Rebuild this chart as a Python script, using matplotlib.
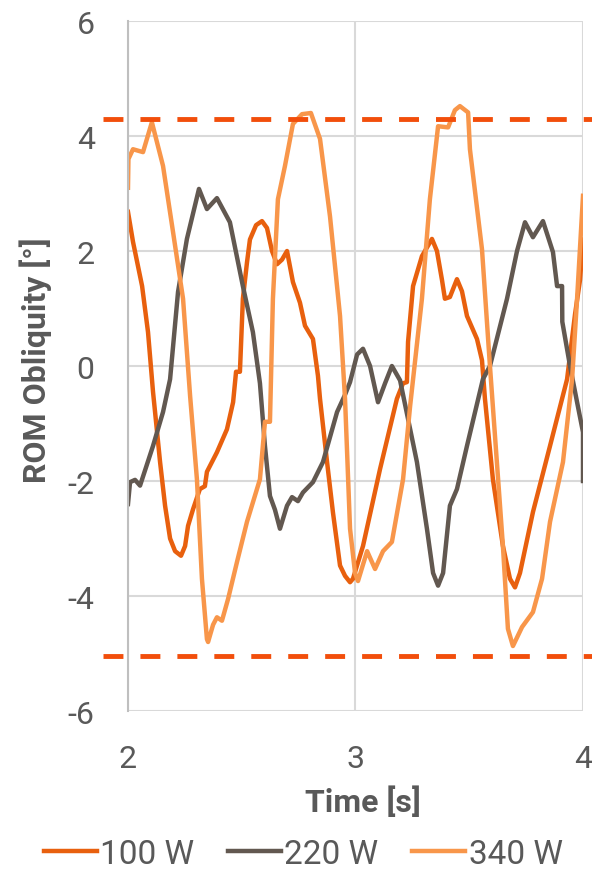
import matplotlib
matplotlib.use('Agg')
import matplotlib.pyplot as plt

plt.rcParams['font.family'] = ['Roboto', 'DejaVu Sans']
plt.rcParams['axes.unicode_minus'] = False

GREY_TXT = '#595959'
GRID = '#D9D9D9'

# 100 W
t_100 = [2.000, 2.022, 2.062, 2.088, 2.110, 2.119, 2.141, 2.163, 2.185, 2.207,
         2.233, 2.251, 2.264, 2.286, 2.316, 2.338, 2.347, 2.391, 2.435, 2.462,
         2.475, 2.492, 2.505, 2.523, 2.536, 2.563, 2.589, 2.611, 2.633, 2.655,
         2.677, 2.699, 2.725, 2.756, 2.778, 2.813, 2.835, 2.844, 2.875, 2.901,
         2.932, 2.954, 2.976, 2.989, 3.033, 3.108, 3.182, 3.209, 3.226, 3.231,
         3.253, 3.292, 3.336, 3.358, 3.380, 3.393, 3.415, 3.446, 3.468, 3.490,
         3.534, 3.556, 3.569, 3.604, 3.648, 3.679, 3.701, 3.723, 3.780, 3.855,
         3.930, 3.965, 3.987, 4.000]
v_100 = [2.68, 2.16, 1.39, 0.59, -0.45, -0.80, -1.67, -2.43, -3.00, -3.22,
         -3.30, -3.13, -2.78, -2.49, -2.14, -2.09, -1.84, -1.50, -1.10, -0.63,
         -0.10, -0.10, 1.17, 1.80, 2.20, 2.45, 2.52, 2.40, 2.00, 1.77,
         1.85, 2.00, 1.46, 1.10, 0.70, 0.47, -0.17, -0.57, -1.67, -2.55,
         -3.47, -3.65, -3.76, -3.70, -3.13, -1.79, -0.57, -0.30, -0.28, 0.42,
         1.39, 1.91, 2.21, 2.00, 1.50, 1.17, 1.20, 1.51, 1.30, 0.87,
         0.47, 0.10, -0.57, -1.97, -3.13, -3.70, -3.85, -3.60, -2.54, -1.39,
         -0.23, 0.90, 1.50, 2.20]

# 220 W
t_220 = [2.000, 2.009, 2.031, 2.053, 2.110, 2.154, 2.185, 2.220, 2.259, 2.312,
         2.347, 2.391, 2.448, 2.505, 2.549, 2.580, 2.602, 2.624, 2.646, 2.668,
         2.699, 2.721, 2.747, 2.769, 2.813, 2.857, 2.919, 2.954, 2.976, 3.007,
         3.033, 3.064, 3.099, 3.130, 3.160, 3.196, 3.270, 3.314, 3.341, 3.363,
         3.385, 3.415, 3.446, 3.490, 3.560, 3.591, 3.666, 3.710, 3.745, 3.780,
         3.824, 3.868, 3.886, 3.908, 3.909, 3.943, 3.974, 4.000, 4.000]
v_220 = [-2.40, -2.02, -1.98, -2.08, -1.39, -0.80, -0.23, 1.29, 2.21, 3.08,
         2.73, 2.92, 2.50, 1.39, 0.59, -0.30, -1.39, -2.26, -2.50, -2.83,
         -2.43, -2.28, -2.35, -2.20, -2.02, -1.67, -0.80, -0.50, -0.28, 0.20,
         0.30, 0.00, -0.63, -0.30, 0.00, -0.25, -1.67, -2.83, -3.60, -3.82,
         -3.60, -2.43, -2.14, -1.39, -0.23, 0.00, 1.17, 2.00, 2.50, 2.24,
         2.52, 1.98, 1.39, 1.39, 0.77, 0.00, -0.63, -1.15, -2.00]

# 340 W
t_340 = [2.000, 2.002, 2.022, 2.066, 2.105, 2.154, 2.198, 2.242, 2.273, 2.303,
         2.325, 2.347, 2.352, 2.374, 2.391, 2.413, 2.440, 2.479, 2.523, 2.580,
         2.602, 2.624, 2.637, 2.659, 2.690, 2.725, 2.765, 2.804, 2.844, 2.888,
         2.932, 2.954, 2.976, 2.998, 3.011, 3.051, 3.086, 3.121, 3.160, 3.209,
         3.240, 3.292, 3.327, 3.363, 3.407, 3.437, 3.459, 3.495, 3.503, 3.556,
         3.591, 3.648, 3.670, 3.692, 3.732, 3.780, 3.820, 3.855, 3.912, 3.952,
         3.974, 4.000]
v_340 = [3.10, 3.60, 3.77, 3.72, 4.24, 3.48, 2.33, 1.17, -0.52, -1.97,
         -3.70, -4.75, -4.80, -4.50, -4.37, -4.43, -4.05, -3.41, -2.71, -1.97,
         -0.97, -0.97, 1.17, 2.90, 3.48, 4.21, 4.38, 4.40, 3.95, 2.60,
         0.87, -0.57, -2.83, -3.60, -3.74, -3.22, -3.53, -3.22, -3.06, -1.97,
         -0.70, 1.17, 2.90, 4.17, 4.15, 4.45, 4.52, 4.41, 3.77, 2.03,
         0.00, -3.13, -4.57, -4.87, -4.54, -4.28, -3.70, -2.71, -1.67, -0.23,
         1.17, 2.96]

limits = [4.3, -5.05]

series = [('100 W', t_100, v_100, '#E8600E'),
          ('220 W', t_220, v_220, '#625850'),
          ('340 W', t_340, v_340, '#F8964A')]

fig = plt.figure(figsize=(5.92, 8.70), dpi=100)
ax = fig.add_axes([0.2162, 0.1816, 0.7686, 0.7931])

for name, t, v, c in series:
    ax.plot(t, v, color=c, lw=3.2, label=name, solid_joinstyle='round')

# limit lines, running a bit past the plot area
for lim in limits:
    ax.plot([-0.055, 1.03], [lim, lim], transform=ax.get_yaxis_transform(),
            color='#F24E0B', lw=3.5, dashes=(4.1, 3.5), dash_capstyle='butt',
            clip_on=False)

ax.set_xlim(2, 4)
ax.set_ylim(-6, 6)
ax.set_xticks([2, 3, 4])
ax.set_yticks([-6, -4, -2, 0, 2, 4, 6])
ax.grid(True, color=GRID, lw=1.5)
ax.set_axisbelow(True)
for s in ['top', 'right', 'bottom']:
    ax.spines[s].set_visible(False)
ax.spines['left'].set_color('#BFBFBF')
ax.spines['left'].set_linewidth(1.5)
ax.tick_params(length=0, labelsize=23, labelcolor=GREY_TXT, pad=24)

ax.set_xlabel('Time [s]', fontsize=23, fontweight='bold', color=GREY_TXT)
ax.set_ylabel('ROM Obliquity [°]', fontsize=23, fontweight='bold', color=GREY_TXT)
ax.xaxis.set_label_coords(0.516, -0.108)
ax.yaxis.set_label_coords(-0.167, 0.51)

fig.legend(loc='center', bbox_to_anchor=(0.512, 1 - 855 / 870), ncol=3, frameon=False,
           fontsize=24, handlelength=1.6, handletextpad=0.1, columnspacing=1.0,
           labelcolor=GREY_TXT)

fig.savefig('out.png', dpi=100)
